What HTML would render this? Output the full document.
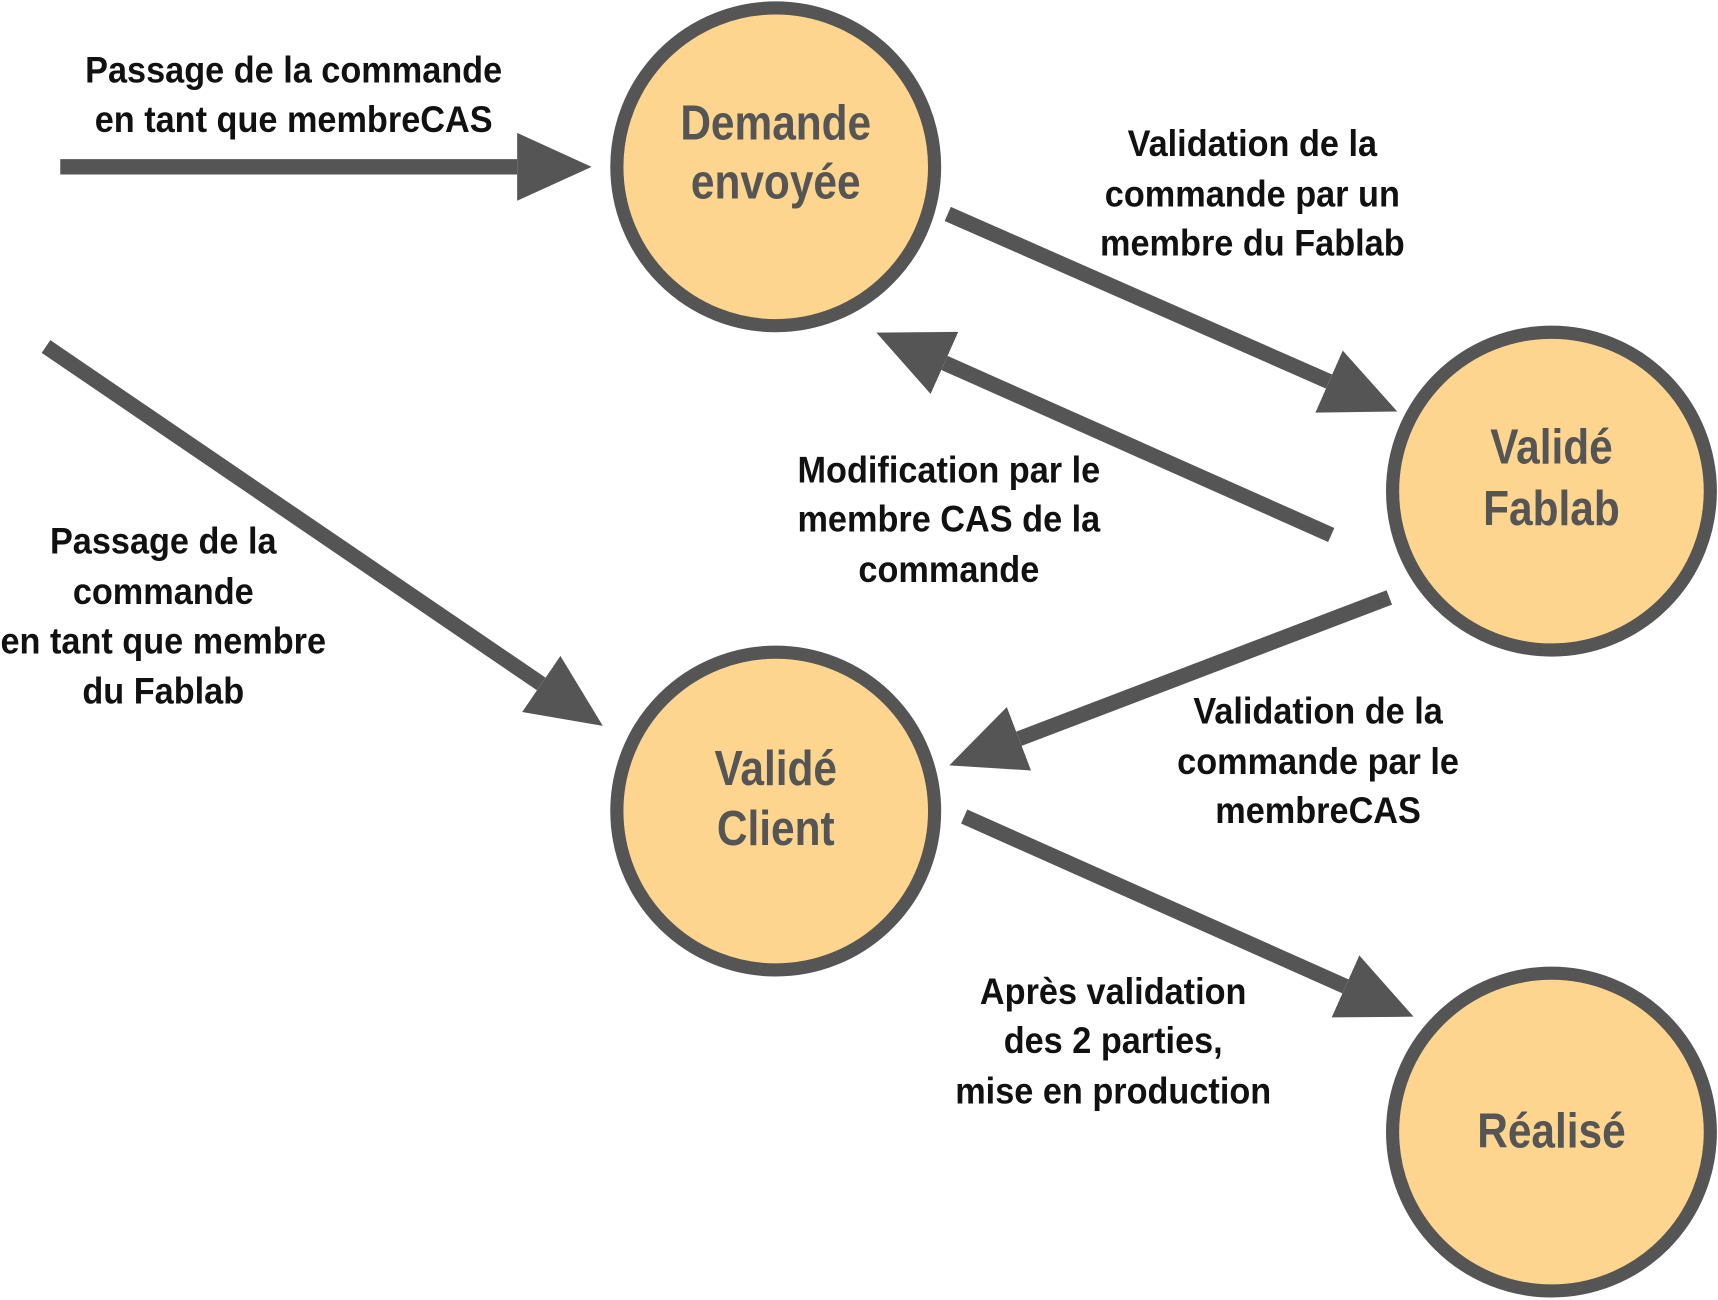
<!DOCTYPE html>
<html><head><meta charset="utf-8"><style>
html,body{margin:0;padding:0;background:#fff;}
svg{display:block}
.l{font-family:"Liberation Sans Narrow","Liberation Sans",sans-serif;font-weight:bold;font-size:34px;fill:#111;text-anchor:middle}
.n{font-family:"Liberation Sans Narrow","Liberation Sans",sans-serif;font-weight:bold;font-size:45px;fill:#555;text-anchor:middle}
</style></head><body>
<svg width="1718" height="1300" viewBox="0 0 1568 1186" xmlns="http://www.w3.org/2000/svg">
<defs>
<marker id="h" markerUnits="userSpaceOnUse" markerWidth="80" markerHeight="80" refX="0" refY="40" orient="auto" viewBox="0 0 80 80">
<path d="M0,9 L68,40 L0,71 Z" fill="#555"/>
</marker>
</defs>
<g stroke="#555" stroke-width="14" marker-end="url(#h)" fill="none">
<line x1="55" y1="152" x2="472" y2="152"/>
<line x1="865" y1="195" x2="1213" y2="348"/>
<line x1="1215" y1="488" x2="862" y2="331"/>
<line x1="42" y1="316" x2="494" y2="624"/>
<line x1="1268" y1="545" x2="930" y2="674"/>
<line x1="880" y1="745" x2="1228" y2="900"/>
</g>
<g fill="#fdd58e" stroke="#555" stroke-width="12">
<circle cx="708" cy="152" r="145"/>
<circle cx="1416" cy="448" r="145"/>
<circle cx="708" cy="740" r="145"/>
<circle cx="1416" cy="1033" r="145"/>
</g>
<g class="n">
<text class="n" transform="translate(708 127) scale(0.86 1)">Demande</text>
<text class="n" transform="translate(708 181) scale(0.86 1)">envoyée</text>
<text class="n" transform="translate(1416 423) scale(0.86 1)">Validé</text>
<text class="n" transform="translate(1416 479) scale(0.86 1)">Fablab</text>
<text class="n" transform="translate(708 716) scale(0.86 1)">Validé</text>
<text class="n" transform="translate(708 771) scale(0.86 1)">Client</text>
<text class="n" transform="translate(1416 1047) scale(0.86 1)">Réalisé</text>
</g>
<text class="l" transform="translate(268 75) scale(0.92 1)">Passage de la commande</text>
<text class="l" transform="translate(268 120) scale(0.92 1)">en tant que membreCAS</text>
<text class="l" transform="translate(1143 142) scale(0.92 1)">Validation de la</text>
<text class="l" transform="translate(1143 188) scale(0.92 1)">commande par un</text>
<text class="l" transform="translate(1143 233) scale(0.92 1)">membre du Fablab</text>
<text class="l" transform="translate(866 440) scale(0.92 1)">Modification par le</text>
<text class="l" transform="translate(866 485) scale(0.92 1)">membre CAS de la</text>
<text class="l" transform="translate(866 531) scale(0.92 1)">commande</text>
<text class="l" transform="translate(149 505) scale(0.92 1)">Passage de la</text>
<text class="l" transform="translate(149 551) scale(0.92 1)">commande</text>
<text class="l" transform="translate(149 596) scale(0.92 1)">en tant que membre</text>
<text class="l" transform="translate(149 642) scale(0.92 1)">du Fablab</text>
<text class="l" transform="translate(1203 660) scale(0.92 1)">Validation de la</text>
<text class="l" transform="translate(1203 706) scale(0.92 1)">commande par le</text>
<text class="l" transform="translate(1203 751) scale(0.92 1)">membreCAS</text>
<text class="l" transform="translate(1016 916) scale(0.92 1)">Après validation</text>
<text class="l" transform="translate(1016 961) scale(0.92 1)">des 2 parties,</text>
<text class="l" transform="translate(1016 1007) scale(0.92 1)">mise en production</text>
</svg>
</body></html>
